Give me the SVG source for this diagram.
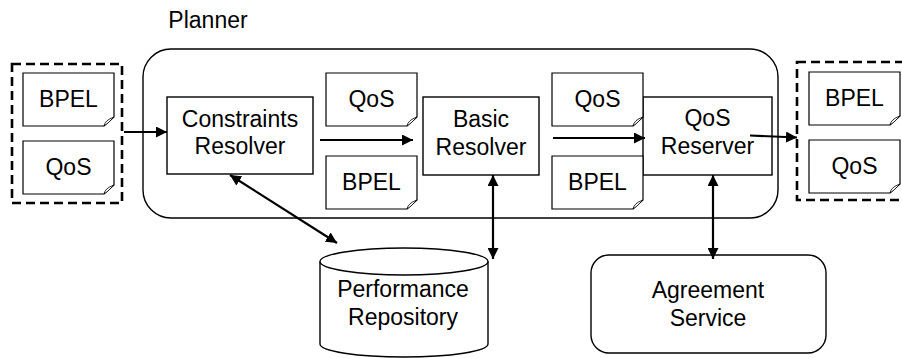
<svg xmlns="http://www.w3.org/2000/svg" width="902" height="358" viewBox="0 0 902 358">
<defs>
<marker id="ah" viewBox="0 0 10 10" refX="10" refY="5" markerWidth="5" markerHeight="5" orient="auto-start-reverse" markerUnits="strokeWidth">
<path d="M0,0 L10,5 L0,10 Z" fill="#000"/>
</marker>
<g id="doc">
<path d="M0,0 H91 V44 L81,53 H0 Z" fill="#fff" stroke="#000" stroke-width="1.2"/>
<path d="M81,53 Q82,47 91,44 L85,50 Z" fill="#fff" stroke="#000" stroke-width="0.8"/>
</g>
</defs>
<style>
text{font-family:"Liberation Sans",Arial,sans-serif;font-size:23px;fill:#000;text-anchor:middle}
.box{fill:#fff;stroke:#000;stroke-width:1.4}
.dash{fill:none;stroke:#000;stroke-width:2.6;stroke-dasharray:9 5}
.conn{fill:none;stroke:#000;stroke-width:2.2}
</style>
<g id="planner">
<rect x="143" y="49" width="635" height="169" rx="28" ry="28" class="box"/>
<text x="208" y="28">Planner</text>
</g>
<g id="input">
<rect x="12" y="64" width="110" height="139" class="dash"/>
<use href="#doc" x="23" y="73"/>
<text x="68.5" y="107">BPEL</text>
<use href="#doc" x="23" y="141"/>
<text x="68.5" y="175">QoS</text>
</g>
<g id="output">
<rect x="797" y="62" width="115" height="138" class="dash"/>
<use href="#doc" x="809" y="72"/>
<text x="854.5" y="106">BPEL</text>
<use href="#doc" x="809" y="140"/>
<text x="854.5" y="174">QoS</text>
</g>
<g id="constraints-resolver">
<rect x="167" y="97" width="146" height="77" class="box"/>
<text x="240" y="127">Constraints</text>
<text x="240" y="154">Resolver</text>
</g>
<g id="docs1">
<use href="#doc" x="326" y="73"/>
<text x="371.5" y="107">QoS</text>
<use href="#doc" x="326" y="156"/>
<text x="371.5" y="190">BPEL</text>
</g>
<g id="basic-resolver">
<rect x="423" y="97" width="116" height="78" class="box"/>
<text x="481" y="127">Basic</text>
<text x="481" y="155">Resolver</text>
</g>
<g id="qos-reserver">
<rect x="643" y="97" width="129" height="78" class="box"/>
<text x="707.5" y="126">QoS</text>
<text x="707.5" y="154">Reserver</text>
</g>
<g id="docs2">
<use href="#doc" x="552" y="73"/>
<text x="597.5" y="107">QoS</text>
<use href="#doc" x="552" y="156"/>
<text x="597.5" y="190">BPEL</text>
</g>
<g id="performance-repository">
<path d="M320,261.5 V344 A84,13 0 0 0 488,344 V261.5" class="box"/>
<ellipse cx="404" cy="261.5" rx="84" ry="13.5" class="box"/>
<text x="403" y="297">Performance</text>
<text x="403" y="325">Repository</text>
</g>
<g id="agreement-service">
<rect x="591" y="255" width="235" height="98" rx="18" ry="18" class="box"/>
<text x="708" y="298">Agreement</text>
<text x="708" y="326">Service</text>
</g>
<g id="connectors">
<line x1="124" y1="132" x2="167" y2="132" class="conn" marker-end="url(#ah)"/>
<line x1="320" y1="140" x2="413" y2="140" class="conn" marker-end="url(#ah)"/>
<line x1="553" y1="138" x2="645" y2="138" class="conn" marker-end="url(#ah)"/>
<line x1="750" y1="135.5" x2="797" y2="137.5" class="conn" marker-end="url(#ah)"/>
<line x1="230" y1="175" x2="337" y2="243" class="conn" marker-start="url(#ah)" marker-end="url(#ah)"/>
<line x1="493" y1="175" x2="493" y2="259" class="conn" marker-start="url(#ah)" marker-end="url(#ah)"/>
<line x1="713" y1="175" x2="713" y2="259" class="conn" marker-start="url(#ah)" marker-end="url(#ah)"/>
</g>
</svg>
